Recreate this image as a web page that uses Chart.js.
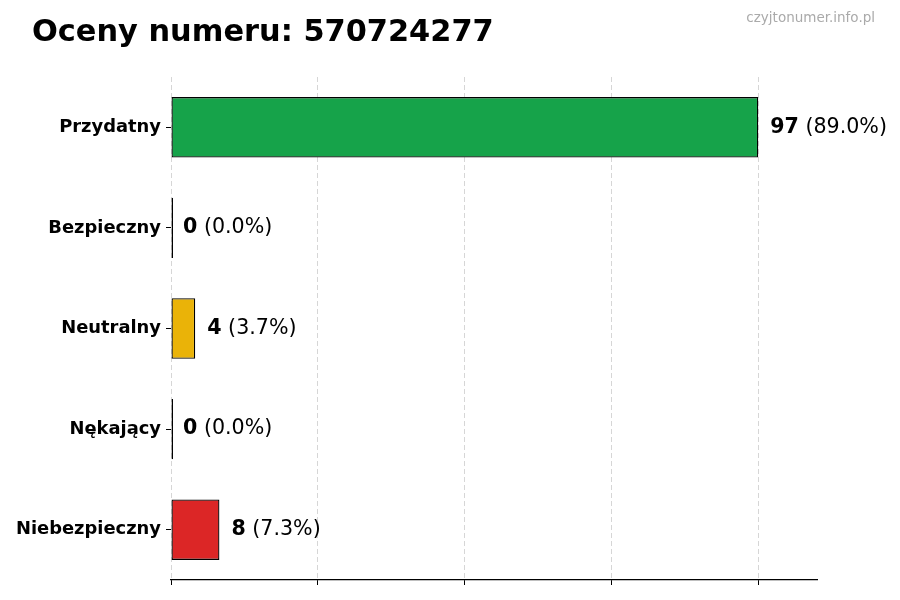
<!DOCTYPE html>
<html>
<head>
<meta charset="utf-8">
<script src="https://cdn.jsdelivr.net/npm/chart.js@4/dist/chart.umd.min.js"></script>
<style>
html,body{margin:0;padding:0;background:#fff;}
#wrap{width:900px;height:600px;position:relative;}
</style>
</head>
<body>
<div id="wrap"><canvas id="c" width="900" height="600"></canvas></div>
<script>
const categories = ["Przydatny", "Bezpieczny", "Neutralny", "Nękający", "Niebezpieczny"];
const counts = [97, 0, 4, 0, 8];
const barColors = ["#16a34a", "#9ca3af", "#eab308", "#f97316", "#dc2626"];
const xTicks = [0, 24.25, 48.5, 72.75, 97];
const xMax = 106.7;
const titleText = "Oceny numeru: 570724277";
const watermark = "czyjtonumer.info.pl";

const total = counts.reduce((a, b) => a + b, 0);
const FONT = "'DejaVu Sans', sans-serif";

const textPlugin = {
  id: 'texts',
  afterDraw(chart) {
    const ctx = chart.ctx;
    ctx.save();
    // title
    ctx.fillStyle = '#000';
    ctx.font = "bold 30.4px " + FONT;
    ctx.textAlign = 'left';
    ctx.textBaseline = 'alphabetic';
    ctx.fillText(titleText, 32, 41);
    // watermark
    ctx.fillStyle = '#aaaaaa';
    ctx.font = "13.5px " + FONT;
    ctx.textAlign = 'right';
    ctx.fillText(watermark, 875, 22);
    // value labels
    const meta = chart.getDatasetMeta(0);
    const xs = chart.scales.x;
    ctx.textBaseline = 'middle';
    ctx.textAlign = 'left';
    meta.data.forEach((bar, i) => {
      const v = counts[i];
      const x = xs.getPixelForValue(v) + 12;
      const y = bar.y;
      ctx.fillStyle = '#000';
      ctx.font = "bold 20.6px " + FONT;
      const s1 = String(v);
      ctx.fillText(s1, x, y);
      const w = ctx.measureText(s1).width;
      ctx.font = "20.6px " + FONT;
      const pct = total ? (v / total * 100).toFixed(1) : "0.0";
      ctx.fillText(" (" + pct + "%)", x + w, y);
    });
    ctx.restore();
  }
};

new Chart(document.getElementById('c'), {
  type: 'bar',
  data: {
    labels: categories,
    datasets: [{
      data: counts,
      backgroundColor: barColors,
      borderColor: '#000',
      borderWidth: 1.3,
      borderSkipped: false,
      minBarLength: 2,
      barPercentage: 0.6,
      categoryPercentage: 1.0
    }]
  },
  options: {
    indexAxis: 'y',
    responsive: false,
    animation: false,
    devicePixelRatio: 1,
    layout: { padding: { top: 77, right: 83, left: 0, bottom: 0 } },
    plugins: { legend: { display: false }, tooltip: { enabled: false }, title: { display: false } },
    scales: {
      x: {
        type: 'linear',
        min: 0,
        max: xMax,
        afterBuildTicks(scale) { scale.ticks = xTicks.map(v => ({ value: v })); },
        afterFit(scale) { scale.height = 20; },
        ticks: { display: false },
        grid: {
          display: true,
          drawOnChartArea: true,
          drawTicks: true,
          tickLength: 5,
          color: '#d6d6d6',
          tickColor: '#000',
          lineWidth: 1,
          tickWidth: 1
        },
        border: { display: true, color: '#000', width: 1.2, dash: [5, 3] }
      },
      y: {
        type: 'category',
        afterFit(scale) { scale.width = 171; },
        ticks: {
          color: '#000',
          padding: 5,
          font: { family: FONT, size: 17.9, weight: 'bold' }
        },
        grid: {
          display: true,
          offset: false,
          drawOnChartArea: false,
          drawTicks: true,
          tickLength: 5,
          tickColor: '#000',
          color: '#000'
        },
        border: { display: false }
      }
    }
  },
  plugins: [textPlugin]
});
</script>
</body>
</html>
